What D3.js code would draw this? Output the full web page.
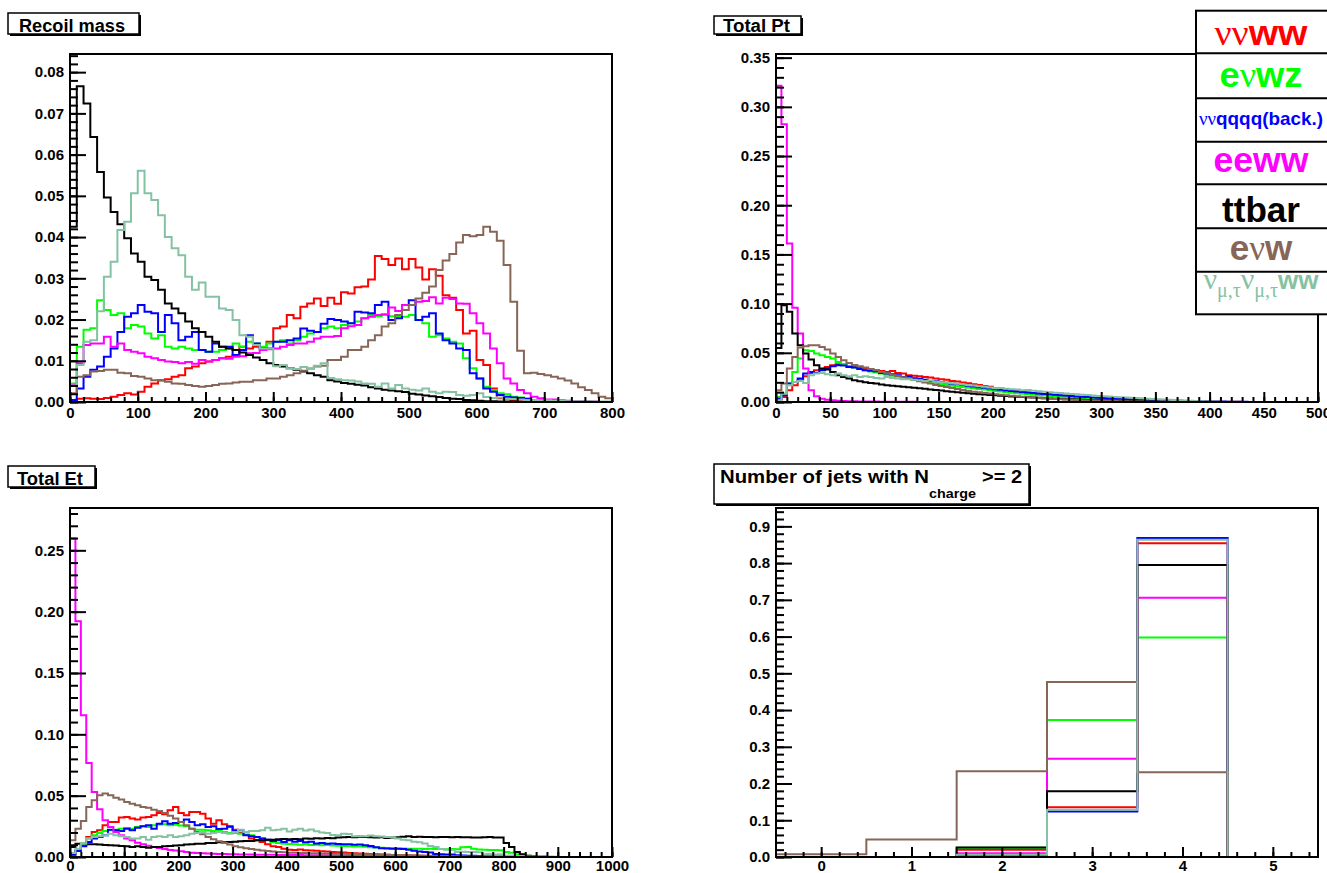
<!DOCTYPE html>
<html>
<head>
<meta charset="utf-8">
<script src="https://cdn.jsdelivr.net/npm/d3@7"></script>
<style>
  body { margin: 0; background: #fff; }
  svg { display: block; background: #fff; }
</style>
</head>
<body>
<svg id="chart" width="1327" height="873"></svg>
<script>
// ---------------- series (drawing order = legend order) ----------------
const seriesKeys = ["nnww", "enwz", "nnqqqq", "eeww", "ttbar", "enw", "nmnmww"];
const seriesColors = ["#ff0000", "#00ff00", "#0000ff", "#ff00ff", "#000000", "#876657", "#85c2a3"];

// ---------------- Recoil mass: 80 bins, 0..800 ----------------
const recoilRange = [0, 800];
const recoilNNWW = [
0.0000,0.0008,0.0009,0.0008,0.0007,0.0010,0.0013,0.0017,0.0021,0.0018,
0.0025,0.0037,0.0045,0.0053,0.0055,0.0061,0.0065,0.0082,0.0086,0.0094,
0.0098,0.0102,0.0106,0.0110,0.0114,0.0134,0.0130,0.0134,0.0130,0.0146,
0.0179,0.0183,0.0211,0.0203,0.0231,0.0239,0.0251,0.0233,0.0253,0.0238,
0.0266,0.0263,0.0278,0.0280,0.0297,0.0354,0.0347,0.0332,0.0348,0.0322,
0.0347,0.0326,0.0297,0.0322,0.0306,0.0259,0.0253,0.0223,0.0166,0.0173,
0.0102,0.0090,0.0033,0.0009,0.0008,0.0005,0.0004,0.0003,0.0002,0.0002,
0.0001,0.0001,0,0,0,0,0,0,0,0];
const recoilENWZ = [
0.0045,0.0134,0.0175,0.0179,0.0247,0.0223,0.0211,0.0215,0.0179,0.0187,
0.0183,0.0166,0.0154,0.0162,0.0134,0.0130,0.0134,0.0130,0.0126,0.0126,
0.0122,0.0122,0.0126,0.0130,0.0142,0.0134,0.0146,0.0142,0.0134,0.0142,
0.0146,0.0150,0.0142,0.0150,0.0158,0.0166,0.0170,0.0179,0.0183,0.0179,
0.0187,0.0191,0.0195,0.0203,0.0211,0.0208,0.0211,0.0208,0.0208,0.0207,
0.0211,0.0199,0.0191,0.0158,0.0162,0.0154,0.0146,0.0142,0.0106,0.0082,
0.0057,0.0037,0.0029,0.0021,0.0019,0.0013,0.0011,0.0008,0.0005,0.0004,
0.0003,0.0002,0.0002,0.0001,0.0001,0.0001,0.0001,0,0,0];
const recoilNNQQQQ = [
0.0005,0.0033,0.0061,0.0078,0.0086,0.0110,0.0130,0.0170,0.0207,0.0215,
0.0235,0.0219,0.0215,0.0170,0.0211,0.0191,0.0150,0.0158,0.0170,0.0126,
0.0122,0.0142,0.0134,0.0134,0.0114,0.0126,0.0162,0.0142,0.0130,0.0130,
0.0146,0.0146,0.0150,0.0154,0.0178,0.0173,0.0170,0.0190,0.0201,0.0199,
0.0195,0.0191,0.0219,0.0217,0.0215,0.0235,0.0243,0.0199,0.0203,0.0235,
0.0247,0.0199,0.0207,0.0215,0.0166,0.0150,0.0142,0.0130,0.0126,0.0070,
0.0057,0.0033,0.0025,0.0017,0.0013,0.0011,0.0010,0.0008,0.0005,0.0004,
0.0003,0.0002,0.0002,0.0001,0.0001,0.0001,0,0,0,0];
const recoilEEWW = [
0.0041,0.0094,0.0138,0.0142,0.0142,0.0158,0.0134,0.0142,0.0126,0.0122,
0.0118,0.0110,0.0106,0.0102,0.0098,0.0097,0.0094,0.0097,0.0093,0.0102,
0.0098,0.0102,0.0106,0.0105,0.0110,0.0111,0.0118,0.0119,0.0126,0.0128,
0.0130,0.0134,0.0138,0.0142,0.0142,0.0146,0.0154,0.0158,0.0158,0.0160,
0.0179,0.0184,0.0187,0.0203,0.0207,0.0211,0.0213,0.0229,0.0221,0.0235,
0.0235,0.0243,0.0245,0.0254,0.0239,0.0253,0.0250,0.0239,0.0238,0.0215,
0.0191,0.0166,0.0130,0.0094,0.0057,0.0045,0.0029,0.0021,0.0013,0.0009,
0.0006,0.0006,0.0004,0.0003,0.0002,0.0002,0.0001,0.0001,0,0];
const recoilTTBAR = [
0.0425,0.0766,0.0724,0.0643,0.0558,0.0496,0.0461,0.0431,0.0397,0.0360,
0.0340,0.0304,0.0296,0.0272,0.0239,0.0227,0.0215,0.0195,0.0179,0.0170,
0.0158,0.0146,0.0134,0.0130,0.0126,0.0120,0.0114,0.0108,0.0102,0.0094,
0.0090,0.0086,0.0082,0.0078,0.0074,0.0070,0.0065,0.0061,0.0053,0.0050,
0.0046,0.0044,0.0042,0.0040,0.0036,0.0033,0.0030,0.0028,0.0026,0.0024,
0.0020,0.0018,0.0016,0.0014,0.0012,0.0010,0.0008,0.0007,0.0005,0.0004,
0.0003,0.0002,0.0002,0.0001,0.0001,0.0001,0,0,0,0,
0,0,0,0,0,0,0,0,0,0];
const recoilENW = [
0.0021,0.0061,0.0065,0.0074,0.0075,0.0078,0.0078,0.0071,0.0070,0.0063,
0.0061,0.0057,0.0053,0.0052,0.0049,0.0045,0.0044,0.0041,0.0039,0.0037,
0.0039,0.0041,0.0044,0.0045,0.0047,0.0049,0.0049,0.0053,0.0053,0.0057,
0.0057,0.0061,0.0065,0.0070,0.0076,0.0081,0.0086,0.0088,0.0102,0.0102,
0.0110,0.0126,0.0126,0.0134,0.0150,0.0162,0.0183,0.0191,0.0211,0.0223,
0.0235,0.0251,0.0265,0.0280,0.0320,0.0343,0.0359,0.0387,0.0405,0.0402,
0.0405,0.0425,0.0413,0.0391,0.0332,0.0243,0.0124,0.0070,0.0071,0.0068,
0.0065,0.0061,0.0057,0.0052,0.0045,0.0036,0.0029,0.0021,0.0013,0.0009];
const recoilNMNMWW = [
0.0040,0.0090,0.0146,0.0150,0.0220,0.0304,0.0340,0.0417,0.0437,0.0506,
0.0561,0.0506,0.0490,0.0453,0.0400,0.0373,0.0356,0.0304,0.0272,0.0290,
0.0255,0.0255,0.0227,0.0223,0.0199,0.0162,0.0158,0.0138,0.0130,0.0130,
0.0087,0.0090,0.0082,0.0080,0.0085,0.0080,0.0088,0.0094,0.0058,0.0055,
0.0053,0.0052,0.0050,0.0045,0.0044,0.0037,0.0045,0.0033,0.0041,0.0033,
0.0030,0.0028,0.0033,0.0025,0.0021,0.0025,0.0024,0.0017,0.0015,0.0017,
0.0021,0.0012,0.0010,0.0011,0.0008,0.0007,0.0006,0.0005,0.0005,0.0004,
0.0004,0.0003,0.0003,0.0002,0.0002,0.0002,0.0001,0.0001,0.0001,0.0001];
const recoilXTicks = [0, 100, 200, 300, 400, 500, 600, 700, 800];
const recoilYTicks = [0, 0.01, 0.02, 0.03, 0.04, 0.05, 0.06, 0.07, 0.08];

// ---------------- Total Pt: 100 bins, 0..500 ----------------
const ptRange = [0, 500];
const ptNNWW = [
0.0024,0.0051,0.0119,0.0170,0.0220,0.0261,0.0295,0.0322,0.0329,0.0356,
0.0373,0.0384,0.0378,0.0363,0.0356,0.0350,0.0340,0.0329,0.0322,0.0316,
0.0305,0.0316,0.0295,0.0290,0.0272,0.0268,0.0262,0.0255,0.0248,0.0238,
0.0230,0.0225,0.0214,0.0208,0.0197,0.0190,0.0180,0.0172,0.0163,0.0155,
0.0138,0.0130,0.0122,0.0115,0.0108,0.0101,0.0095,0.0089,0.0083,0.0078,
0.0073,0.0068,0.0064,0.0060,0.0056,0.0052,0.0048,0.0044,0.0040,0.0037,
0.0034,0.0031,0.0028,0.0026,0.0024,0.0022,0.0020,0.0018,0.0017,0.0016,
0.0014,0.0013,0.0012,0.0011,0.0010,0.0009,0.0008,0.0007,0.0006,0.0005,
0.0004,0.0004,0.0003,0.0003,0.0002,0.0002,0.0001,0.0001,0.0001,0.0001,
0,0,0,0,0,0,0,0,0,0];
const ptENWZ = [
0.0051,0.0085,0.0187,0.0305,0.0441,0.0526,0.0519,0.0492,0.0475,0.0458,
0.0441,0.0407,0.0384,0.0363,0.0350,0.0336,0.0322,0.0309,0.0299,0.0289,
0.0278,0.0268,0.0258,0.0248,0.0238,0.0227,0.0217,0.0207,0.0200,0.0193,
0.0178,0.0172,0.0165,0.0158,0.0152,0.0146,0.0140,0.0133,0.0127,0.0120,
0.0112,0.0106,0.0100,0.0094,0.0089,0.0084,0.0079,0.0074,0.0069,0.0065,
0.0060,0.0056,0.0052,0.0048,0.0044,0.0041,0.0038,0.0035,0.0032,0.0029,
0.0026,0.0024,0.0022,0.0020,0.0018,0.0016,0.0014,0.0012,0.0011,0.0010,
0.0009,0.0008,0.0007,0.0006,0.0005,0.0004,0.0003,0.0003,0.0002,0.0002,
0.0001,0.0001,0.0001,0.0001,0.0001,0,0,0,0,0,
0,0,0,0,0,0,0,0,0,0];
const ptNNQQQQ = [
0.0034,0.0068,0.0187,0.0204,0.0238,0.0289,0.0305,0.0295,0.0322,0.0340,
0.0363,0.0373,0.0370,0.0356,0.0350,0.0336,0.0322,0.0318,0.0312,0.0295,
0.0289,0.0282,0.0272,0.0255,0.0258,0.0241,0.0236,0.0227,0.0214,0.0210,
0.0200,0.0195,0.0186,0.0180,0.0172,0.0165,0.0158,0.0150,0.0144,0.0138,
0.0130,0.0124,0.0118,0.0112,0.0106,0.0101,0.0096,0.0091,0.0086,0.0082,
0.0078,0.0073,0.0069,0.0065,0.0061,0.0057,0.0053,0.0050,0.0046,0.0043,
0.0040,0.0037,0.0035,0.0032,0.0030,0.0028,0.0026,0.0024,0.0022,0.0020,
0.0018,0.0016,0.0015,0.0013,0.0012,0.0010,0.0009,0.0008,0.0007,0.0006,
0.0005,0.0004,0.0004,0.0003,0.0003,0.0002,0.0002,0.0001,0.0001,0.0001,
0.0001,0.0001,0,0,0,0,0,0,0,0];
const ptEEWW = [
0.3215,0.2824,0.1610,0.0957,0.0696,0.0340,0.0120,0.0058,0.0034,0.0024,
0.0017,0.0012,0.0010,0.0008,0.0007,0.0006,0.0005,0.0004,0.0004,0.0003,
0.0003,0.0003,0.0002,0.0002,0.0002,0.0002,0.0001,0.0001,0.0001,0.0001,
0,0,0,0,0,0,0,0,0,0,
0,0,0,0,0,0,0,0,0,0,
0,0,0,0,0,0,0,0,0,0,
0,0,0,0,0,0,0,0,0,0,
0,0,0,0,0,0,0,0,0,0,
0,0,0,0,0,0,0,0,0,0,
0,0,0,0,0,0,0,0,0,0];
const ptTTBAR = [
0.0550,0.0984,0.0917,0.0696,0.0577,0.0492,0.0431,0.0373,0.0340,0.0330,
0.0305,0.0272,0.0255,0.0238,0.0220,0.0210,0.0200,0.0193,0.0187,0.0178,
0.0170,0.0165,0.0160,0.0155,0.0150,0.0145,0.0140,0.0134,0.0128,0.0122,
0.0116,0.0110,0.0105,0.0100,0.0095,0.0090,0.0085,0.0080,0.0076,0.0072,
0.0068,0.0064,0.0060,0.0057,0.0054,0.0051,0.0048,0.0045,0.0042,0.0039,
0.0036,0.0033,0.0031,0.0029,0.0027,0.0025,0.0023,0.0021,0.0019,0.0017,
0.0015,0.0014,0.0012,0.0011,0.0010,0.0009,0.0008,0.0007,0.0006,0.0005,
0.0004,0.0004,0.0003,0.0003,0.0002,0.0002,0.0001,0.0001,0.0001,0.0001,
0,0,0,0,0,0,0,0,0,0,
0,0,0,0,0,0,0,0,0,0];
const ptENW = [
0.0119,0.0187,0.0340,0.0458,0.0553,0.0567,0.0577,0.0577,0.0560,0.0533,
0.0492,0.0458,0.0424,0.0397,0.0377,0.0363,0.0350,0.0336,0.0322,0.0305,
0.0292,0.0278,0.0265,0.0251,0.0238,0.0224,0.0210,0.0197,0.0187,0.0173,
0.0163,0.0153,0.0143,0.0132,0.0122,0.0112,0.0105,0.0098,0.0092,0.0086,
0.0080,0.0074,0.0068,0.0063,0.0058,0.0053,0.0049,0.0045,0.0041,0.0037,
0.0034,0.0031,0.0028,0.0025,0.0022,0.0020,0.0018,0.0016,0.0014,0.0012,
0.0011,0.0010,0.0009,0.0008,0.0007,0.0006,0.0005,0.0004,0.0003,0.0003,
0.0002,0.0002,0.0002,0.0001,0.0001,0.0001,0.0001,0,0,0,
0,0,0,0,0,0,0,0,0,0,
0,0,0,0,0,0,0,0,0,0];
const ptNMNMWW = [
0.0017,0.0085,0.0170,0.0204,0.0214,0.0193,0.0272,0.0289,0.0295,0.0282,
0.0272,0.0289,0.0272,0.0262,0.0272,0.0255,0.0262,0.0255,0.0244,0.0238,
0.0255,0.0244,0.0238,0.0230,0.0232,0.0225,0.0220,0.0214,0.0218,0.0205,
0.0200,0.0196,0.0190,0.0185,0.0178,0.0172,0.0168,0.0160,0.0155,0.0148,
0.0140,0.0142,0.0135,0.0130,0.0126,0.0120,0.0122,0.0115,0.0110,0.0104,
0.0099,0.0095,0.0091,0.0086,0.0082,0.0078,0.0074,0.0070,0.0066,0.0062,
0.0058,0.0055,0.0052,0.0048,0.0045,0.0042,0.0040,0.0037,0.0034,0.0031,
0.0028,0.0025,0.0022,0.0020,0.0017,0.0014,0.0012,0.0010,0.0008,0.0006,
0.0005,0.0004,0.0003,0.0002,0.0002,0.0001,0.0001,0.0001,0,0,
0,0,0,0,0,0,0,0,0,0];
const ptXTicks = [0, 50, 100, 150, 200, 250, 300, 350, 400, 450, 500];
const ptYTicks = [0, 0.05, 0.10, 0.15, 0.20, 0.25, 0.30, 0.35];

// ---------------- Total Et: 100 bins, 0..1000 ----------------
const etRange = [0, 1000];
const etNNWW = [
0.0014,0.0054,0.0095,0.0163,0.0204,0.0218,0.0258,0.0285,0.0285,0.0321,
0.0326,0.0313,0.0305,0.0321,0.0326,0.0340,0.0359,0.0348,0.0381,0.0408,
0.0359,0.0340,0.0367,0.0367,0.0353,0.0313,0.0272,0.0299,0.0266,0.0245,
0.0223,0.0196,0.0182,0.0150,0.0136,0.0122,0.0103,0.0087,0.0082,0.0068,
0.0060,0.0058,0.0062,0.0055,0.0052,0.0050,0.0047,0.0044,0.0041,0.0039,
0.0036,0.0033,0.0030,0.0028,0.0026,0.0024,0.0022,0.0020,0.0018,0.0017,
0.0015,0.0014,0.0013,0.0012,0.0011,0.0010,0.0009,0.0008,0.0007,0.0006,
0.0005,0.0005,0.0004,0.0004,0.0003,0.0003,0.0002,0.0002,0.0001,0.0001,
0,0,0,0,0,0,0,0,0,0,
0,0,0,0,0,0,0,0,0,0];
const etENWZ = [
0.0027,0.0054,0.0109,0.0150,0.0177,0.0196,0.0212,0.0218,0.0223,0.0231,
0.0237,0.0231,0.0245,0.0250,0.0245,0.0258,0.0264,0.0266,0.0258,0.0262,
0.0256,0.0250,0.0231,0.0223,0.0223,0.0218,0.0212,0.0212,0.0204,0.0196,
0.0196,0.0190,0.0182,0.0177,0.0163,0.0150,0.0136,0.0122,0.0114,0.0109,
0.0106,0.0103,0.0100,0.0103,0.0098,0.0100,0.0096,0.0098,0.0094,0.0092,
0.0090,0.0088,0.0086,0.0085,0.0083,0.0080,0.0078,0.0076,0.0074,0.0072,
0.0070,0.0069,0.0068,0.0068,0.0067,0.0066,0.0068,0.0065,0.0066,0.0064,
0.0066,0.0063,0.0080,0.0082,0.0068,0.0062,0.0060,0.0058,0.0058,0.0056,
0.0041,0.0035,0.0022,0.0018,0.0010,0.0007,0.0005,0.0004,0.0003,0.0002,
0.0001,0.0001,0.0001,0,0,0,0,0,0,0];
const etNNQQQQ = [
0.0022,0.0049,0.0087,0.0122,0.0150,0.0163,0.0177,0.0223,0.0218,0.0212,
0.0231,0.0218,0.0239,0.0250,0.0258,0.0231,0.0272,0.0291,0.0272,0.0277,
0.0285,0.0305,0.0285,0.0258,0.0266,0.0245,0.0250,0.0228,0.0231,0.0250,
0.0212,0.0218,0.0177,0.0169,0.0163,0.0150,0.0141,0.0131,0.0136,0.0122,
0.0136,0.0125,0.0130,0.0120,0.0125,0.0110,0.0115,0.0108,0.0111,0.0106,
0.0103,0.0104,0.0100,0.0102,0.0096,0.0090,0.0080,0.0072,0.0070,0.0068,
0.0067,0.0066,0.0060,0.0050,0.0044,0.0041,0.0036,0.0024,0.0022,0.0021,
0.0020,0.0015,0.0012,0.0011,0.0010,0.0008,0.0006,0.0005,0.0005,0.0004,
0.0003,0.0003,0.0002,0.0002,0.0001,0.0001,0.0001,0,0,0,
0,0,0,0,0,0,0,0,0,0];
const etEEWW = [
0.2597,0.1922,0.1156,0.0767,0.0530,0.0389,0.0299,0.0245,0.0204,0.0177,
0.0150,0.0136,0.0117,0.0103,0.0092,0.0082,0.0073,0.0065,0.0057,0.0052,
0.0046,0.0041,0.0035,0.0033,0.0030,0.0028,0.0027,0.0025,0.0024,0.0023,
0.0022,0.0021,0.0020,0.0020,0.0019,0.0019,0.0018,0.0018,0.0017,0.0017,
0.0016,0.0016,0.0016,0.0015,0.0015,0.0014,0.0014,0.0014,0.0013,0.0013,
0.0012,0.0012,0.0011,0.0011,0.0010,0.0010,0.0009,0.0009,0.0008,0.0008,
0.0007,0.0007,0.0006,0.0006,0.0005,0.0005,0.0004,0.0004,0.0003,0.0003,
0.0002,0.0002,0.0002,0.0001,0.0001,0.0001,0.0001,0,0,0,
0,0,0,0,0,0,0,0,0,0,
0,0,0,0,0,0,0,0,0,0];
const etTTBAR = [
0.0082,0.0109,0.0109,0.0103,0.0103,0.0101,0.0098,0.0095,0.0093,0.0090,
0.0087,0.0082,0.0087,0.0082,0.0076,0.0082,0.0082,0.0087,0.0090,0.0093,
0.0095,0.0101,0.0103,0.0109,0.0109,0.0114,0.0114,0.0120,0.0120,0.0122,
0.0125,0.0128,0.0131,0.0131,0.0136,0.0136,0.0141,0.0141,0.0144,0.0147,
0.0145,0.0147,0.0145,0.0150,0.0148,0.0152,0.0150,0.0155,0.0153,0.0158,
0.0160,0.0163,0.0160,0.0165,0.0163,0.0160,0.0158,0.0160,0.0155,0.0158,
0.0160,0.0165,0.0169,0.0163,0.0165,0.0163,0.0163,0.0160,0.0163,0.0163,
0.0160,0.0163,0.0160,0.0160,0.0158,0.0158,0.0160,0.0163,0.0158,0.0158,
0.0114,0.0082,0.0041,0.0022,0.0011,0.0006,0.0003,0.0002,0.0001,0.0001,
0,0,0,0,0,0,0,0,0,0];
const etENW = [
0.0136,0.0231,0.0294,0.0408,0.0462,0.0503,0.0517,0.0503,0.0484,0.0468,
0.0449,0.0435,0.0421,0.0408,0.0402,0.0386,0.0375,0.0359,0.0337,0.0313,
0.0285,0.0258,0.0231,0.0204,0.0185,0.0163,0.0144,0.0128,0.0114,0.0101,
0.0087,0.0079,0.0071,0.0065,0.0060,0.0054,0.0049,0.0044,0.0041,0.0038,
0.0035,0.0034,0.0033,0.0032,0.0031,0.0030,0.0029,0.0028,0.0027,0.0027,
0.0026,0.0025,0.0024,0.0023,0.0022,0.0021,0.0020,0.0019,0.0018,0.0017,
0.0016,0.0015,0.0014,0.0013,0.0012,0.0011,0.0010,0.0009,0.0008,0.0008,
0.0007,0.0006,0.0006,0.0005,0.0005,0.0004,0.0004,0.0003,0.0003,0.0002,
0.0002,0.0002,0.0001,0.0001,0.0001,0.0001,0,0,0,0,
0,0,0,0,0,0,0,0,0,0];
const etNMNMWW = [
0.0033,0.0068,0.0109,0.0150,0.0163,0.0169,0.0177,0.0190,0.0177,0.0169,
0.0163,0.0150,0.0150,0.0163,0.0141,0.0163,0.0169,0.0163,0.0177,0.0163,
0.0169,0.0177,0.0190,0.0196,0.0204,0.0190,0.0196,0.0204,0.0196,0.0190,
0.0204,0.0223,0.0204,0.0212,0.0212,0.0218,0.0239,0.0218,0.0223,0.0231,
0.0208,0.0223,0.0231,0.0217,0.0225,0.0210,0.0200,0.0196,0.0180,0.0177,
0.0190,0.0188,0.0169,0.0172,0.0169,0.0175,0.0170,0.0168,0.0163,0.0160,
0.0150,0.0140,0.0136,0.0125,0.0120,0.0110,0.0090,0.0082,0.0065,0.0060,
0.0058,0.0041,0.0043,0.0040,0.0041,0.0038,0.0022,0.0024,0.0020,0.0022,
0.0011,0.0012,0.0009,0.0008,0.0005,0.0004,0.0003,0.0002,0.0002,0.0001,
0.0001,0.0001,0,0,0,0,0,0,0,0];
const etXTicks = [0, 100, 200, 300, 400, 500, 600, 700, 800, 900, 1000];
const etYTicks = [0, 0.05, 0.10, 0.15, 0.20, 0.25];

// ---------------- Number of jets with N_charge >= 2: bins centred on 0..5 ----------------
const njetRange = [-0.5, 5.5];
const njetNNWW   = [0, 0, 0.0200, 0.1357, 0.8543, 0];
const njetENWZ   = [0, 0, 0.0250, 0.3730, 0.5976, 0];
const njetNNQQQQ = [0, 0, 0.0040, 0.1237, 0.8680, 0];
const njetEEWW   = [0, 0, 0.0100, 0.2676, 0.7058, 0];
const njetTTBAR  = [0, 0, 0.0260, 0.1787, 0.7947, 0];
const njetENW    = [0.0073, 0.0477, 0.2337, 0.4766, 0.2310, 0];
const njetNMNMWW = [0, 0, 0.0060, 0.1283, 0.8634, 0];
const njetXTicks = [0, 1, 2, 3, 4, 5];
const njetYTicks = [0, 0.1, 0.2, 0.3, 0.4, 0.5, 0.6, 0.7, 0.8, 0.9];

// ---------------- drawing ----------------
const svg = d3.select("#chart");
const SANS = "'Liberation Sans', Arial, Helvetica, sans-serif";
const SERIF = "'Liberation Serif', 'Times New Roman', serif";

// outline of a histogram: up from the axis at the first edge, across every bin, down at the last edge
function stepPoints(values, lo, hi) {
  const w = (hi - lo) / values.length;
  const pts = [[lo, 0]];
  values.forEach((v, i) => { pts.push([lo + i * w, v], [lo + (i + 1) * w, v]); });
  pts.push([hi, 0]);
  return pts;
}

function minorValues(step, max, from) {
  const out = [];
  const n = Math.floor((max - from) / step + 1e-6);
  for (let i = 0; i <= n; i++) out.push(+(from + i * step).toFixed(6));
  return out;
}

function styleAxis(sel) {
  sel.select(".domain").remove();
  sel.selectAll(".tick line").attr("stroke", "#000").attr("stroke-width", 2);
  sel.selectAll(".tick text")
    .attr("fill", "#000")
    .style("font-family", SANS)
    .style("font-weight", "bold")
    .style("font-size", "15px");
}

function drawPanel(p) {
  const x = d3.scaleLinear().domain(p.xDomain).range([p.left, p.right]);
  const y = d3.scaleLinear().domain(p.yDomain).range([p.bottom, p.top]);
  const g = svg.append("g");

  g.append("clipPath").attr("id", "clip-" + p.id)
    .append("rect")
    .attr("x", p.left).attr("y", p.top)
    .attr("width", p.right - p.left).attr("height", p.bottom - p.top);

  const line = d3.line().x(d => x(d[0])).y(d => y(d[1]));
  const hg = g.append("g").attr("clip-path", `url(#clip-${p.id})`);
  p.series.forEach((vals, i) => {
    hg.append("path")
      .attr("d", line(stepPoints(vals, p.xDomain[0], p.xDomain[1])))
      .attr("fill", "none")
      .attr("stroke", seriesColors[i])
      .attr("stroke-width", 2)
      .attr("stroke-linejoin", "miter");
  });

  // frame
  g.append("rect")
    .attr("x", p.left).attr("y", p.top)
    .attr("width", p.right - p.left).attr("height", p.bottom - p.top)
    .attr("fill", "none").attr("stroke", "#000").attr("stroke-width", 2);

  // x axis (ticks point into the frame)
  g.append("g").attr("transform", `translate(0,${p.bottom})`)
    .call(d3.axisBottom(x).tickValues(p.xMinor).tickSize(-5).tickSizeOuter(0).tickFormat(() => ""))
    .call(styleAxis);
  g.append("g").attr("transform", `translate(0,${p.bottom})`)
    .call(d3.axisBottom(x).tickValues(p.xTicks).tickSize(-10).tickSizeOuter(0).tickPadding(p.xPad).tickFormat(p.xFormat))
    .call(styleAxis);

  // y axis
  g.append("g").attr("transform", `translate(${p.left},0)`)
    .call(d3.axisLeft(y).tickValues(p.yMinor).tickSize(-8).tickSizeOuter(0).tickFormat(() => ""))
    .call(styleAxis);
  g.append("g").attr("transform", `translate(${p.left},0)`)
    .call(d3.axisLeft(y).tickValues(p.yTicks).tickSize(-16).tickSizeOuter(0).tickPadding(6).tickFormat(p.yFormat))
    .call(styleAxis);
}

// title pave with a small drop shadow
function drawTitleBox(x, y, w, h) {
  svg.append("rect").attr("x", x + 2).attr("y", y + 2).attr("width", w).attr("height", h).attr("fill", "#000");
  svg.append("rect").attr("x", x).attr("y", y).attr("width", w).attr("height", h)
    .attr("fill", "#fff").attr("stroke", "#000").attr("stroke-width", 1.5);
}
function titleText(str, x, y, size, len) {
  const t = svg.append("text").attr("x", x).attr("y", y)
    .style("font-family", SANS).style("font-weight", "bold").style("font-size", size + "px")
    .attr("fill", "#000").text(str);
  if (len) t.attr("textLength", len).attr("lengthAdjust", "spacingAndGlyphs");
  return t;
}

// ---- panels ----
drawPanel({
  id: "recoil", left: 70, right: 612, top: 54, bottom: 402, xPad: 5,
  xDomain: recoilRange, yDomain: [0, 0.0844],
  series: [recoilNNWW, recoilENWZ, recoilNNQQQQ, recoilEEWW, recoilTTBAR, recoilENW, recoilNMNMWW],
  xTicks: recoilXTicks, xMinor: minorValues(20, 800, 0), xFormat: d3.format("d"),
  yTicks: recoilYTicks, yMinor: minorValues(0.002, 0.0844, 0), yFormat: d3.format(".2f")
});
drawPanel({
  id: "pt", left: 776, right: 1318, top: 54, bottom: 402, xPad: 5,
  xDomain: ptRange, yDomain: [0, 0.3537],
  series: [ptNNWW, ptENWZ, ptNNQQQQ, ptEEWW, ptTTBAR, ptENW, ptNMNMWW],
  xTicks: ptXTicks, xMinor: minorValues(10, 500, 0), xFormat: d3.format("d"),
  yTicks: ptYTicks, yMinor: minorValues(0.01, 0.3537, 0), yFormat: d3.format(".2f")
});
drawPanel({
  id: "et", left: 70, right: 612, top: 508, bottom: 857, xPad: 3,
  xDomain: etRange, yDomain: [0, 0.2845],
  series: [etNNWW, etENWZ, etNNQQQQ, etEEWW, etTTBAR, etENW, etNMNMWW],
  xTicks: etXTicks, xMinor: minorValues(20, 1000, 0), xFormat: d3.format("d"),
  yTicks: etYTicks, yMinor: minorValues(0.01, 0.2845, 0), yFormat: d3.format(".2f")
});
drawPanel({
  id: "njet", left: 776, right: 1318, top: 508, bottom: 857, xPad: 3,
  xDomain: njetRange, yDomain: [0, 0.95],
  series: [njetNNWW, njetENWZ, njetNNQQQQ, njetEEWW, njetTTBAR, njetENW, njetNMNMWW],
  xTicks: njetXTicks, xMinor: minorValues(0.2, 5.5, -0.4), xFormat: d3.format("d"),
  yTicks: njetYTicks, yMinor: minorValues(0.02, 0.95, 0), yFormat: d3.format(".1f")
});

// ---- panel titles ----
drawTitleBox(8, 13, 131, 21);
titleText("Recoil mass", 19, 31.5, 18, 106);

drawTitleBox(714, 16, 87, 18);
titleText("Total Pt", 723, 31.5, 18, 67);

drawTitleBox(8, 466, 87, 21);
titleText("Total Et", 17, 485, 18, 66);

drawTitleBox(714, 464, 315, 40);
titleText("Number of jets with N", 720, 483, 19, 209);
titleText("charge", 929, 498, 13, 47);
titleText(">= 2", 982, 483, 19, 40);

// ---- legend ----
const legendBox = { x: 1196, y: 10.7, w: 134, h: 303.6 };
const legendDividers = [53.3, 98.3, 141.7, 184.3, 228.3, 271.7];
const legendCx = 1261;

svg.append("rect").attr("x", legendBox.x).attr("y", legendBox.y)
  .attr("width", legendBox.w).attr("height", legendBox.h)
  .attr("fill", "#fff").attr("stroke", "#000").attr("stroke-width", 2);
legendDividers.forEach(yy => {
  svg.append("line").attr("x1", legendBox.x).attr("x2", legendBox.x + legendBox.w)
    .attr("y1", yy).attr("y2", yy).attr("stroke", "#000").attr("stroke-width", 2);
});

// each entry: baseline, fitted width (null = natural), list of [text, serif?, size, dy]
const legendEntries = [
  { y: 45,    w: 93,   parts: [["νν", true, 35, 0], ["ww", false, 35, 0]] },
  { y: 86.7,  w: 83,   parts: [["e", false, 35, 0], ["ν", true, 35, 0], ["wz", false, 35, 0]] },
  { y: 125,   w: 124,  parts: [["νν", true, 18.5, 0], ["qqqq(back.)", false, 18.5, 0]] },
  { y: 171.7, w: 95,   parts: [["eeww", false, 35, 0]] },
  { y: 221.7, w: 78,   parts: [["ttbar", false, 35, 0]] },
  { y: 260,   w: null, parts: [["e", false, 35, 0], ["ν", true, 35, 0], ["w", false, 35, 0]] },
  { y: 289,   w: null, parts: [["ν", true, 30, 0], ["μ,τ", true, 20, 8], ["ν", true, 30, -8],
                               ["μ,τ", true, 20, 8], ["ww", false, 26, -8]] }
];
legendEntries.forEach((e, i) => {
  const t = svg.append("text")
    .attr("x", legendCx).attr("y", e.y)
    .attr("text-anchor", "middle")
    .attr("fill", seriesColors[i]);
  if (e.w) t.attr("textLength", e.w).attr("lengthAdjust", "spacingAndGlyphs");
  e.parts.forEach(([str, serif, size, dy]) => {
    t.append("tspan")
      .attr("dy", dy)
      .style("font-family", serif ? SERIF : SANS)
      .style("font-weight", serif ? "normal" : "bold")
      .style("font-size", size + "px")
      .text(str);
  });
});
</script>
</body>
</html>
